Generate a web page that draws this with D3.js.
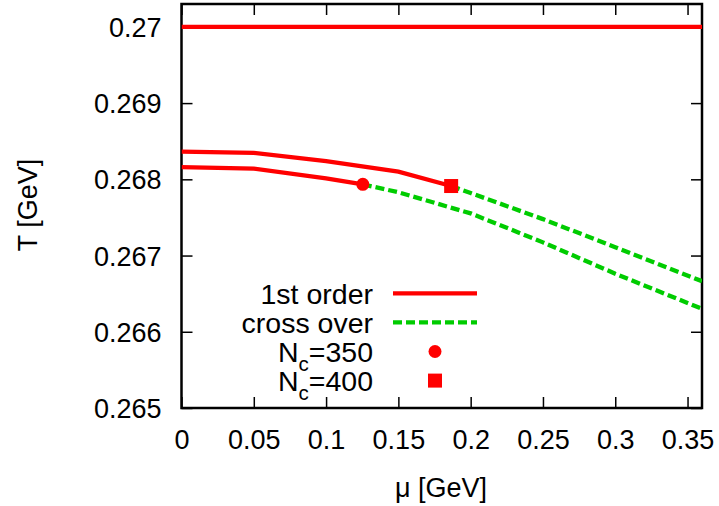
<!DOCTYPE html>
<html>
<head>
<meta charset="utf-8">
<script src="https://cdn.jsdelivr.net/npm/d3@7"></script>
<style>
  html, body { margin: 0; padding: 0; background: #fff; }
  svg { display: block; }
  text { font-family: "Liberation Sans", Arial, Helvetica, sans-serif; fill: #000; }
</style>
</head>
<body>
<svg id="chart" width="719" height="506"></svg>
<script>
// ---- data ----
const xTicks = [0, 0.05, 0.1, 0.15, 0.2, 0.25, 0.3, 0.35];
const xTickLabels = ["0", "0.05", "0.1", "0.15", "0.2", "0.25", "0.3", "0.35"];
const yTicks = [0.265, 0.266, 0.267, 0.268, 0.269, 0.27];
const yTickLabels = ["0.265", "0.266", "0.267", "0.268", "0.269", "0.27"];

const muFlat = [0, 0.36];
const TFlat = [0.27, 0.27];

const mu400First = [0, 0.05, 0.1, 0.15, 0.1865];
const T400First = [0.268364, 0.268348, 0.268240, 0.268100, 0.267912];

const mu350First = [0, 0.05, 0.1, 0.1254];
const T350First = [0.268160, 0.268140, 0.268012, 0.267934];

const mu400Cross = [0.1865, 0.2, 0.25, 0.3, 0.36];
const T400Cross = [0.267912, 0.267820, 0.267478, 0.267110, 0.266664];

const mu350Cross = [0.1254, 0.15, 0.2, 0.25, 0.3, 0.36];
const T350Cross = [0.267934, 0.267830, 0.267553, 0.267173, 0.266762, 0.266302];

const endpoint350 = [0.1254, 0.267934];
const endpoint400 = [0.1865, 0.267912];

const legendLabels = ["1st order", "cross over", "N|c|=350", "N|c|=400"];

// ---- layout ----
const svg = d3.select("#chart");
const L = 181.5, R = 702, T = 4, B = 408;
const x = d3.scaleLinear().domain([0, 0.36]).range([L, R]);
const y = d3.scaleLinear().domain([0.265, 0.2703]).range([B, T]);
const RED = "#ff0000", GREEN = "#00cc00";
const FS = 27;
const LFS = 28.5;

svg.append("defs").append("clipPath").attr("id", "clip")
  .append("rect").attr("x", L).attr("y", T).attr("width", R - L).attr("height", B - T);

const zip = (a, b) => a.map((v, i) => [v, b[i]]);
const line = d3.line().x(d => x(d[0])).y(d => y(d[1]));

// axes with inward ticks
const tickLen = 11;
const axB = svg.append("g").attr("transform", `translate(0,${B})`)
  .call(d3.axisBottom(x).tickValues(xTicks).tickSizeInner(-tickLen).tickSizeOuter(0).tickPadding(22)
    .tickFormat((d, i) => xTickLabels[i]));
const axT = svg.append("g").attr("transform", `translate(0,${T})`)
  .call(d3.axisTop(x).tickValues(xTicks).tickSizeInner(-tickLen).tickSizeOuter(0).tickFormat(""));
const axL = svg.append("g").attr("transform", `translate(${L},0)`)
  .call(d3.axisLeft(y).tickValues(yTicks).tickSizeInner(-tickLen).tickSizeOuter(0).tickPadding(20)
    .tickFormat((d, i) => yTickLabels[i]));
const axR = svg.append("g").attr("transform", `translate(${R},0)`)
  .call(d3.axisRight(y).tickValues(yTicks).tickSizeInner(-tickLen).tickSizeOuter(0).tickFormat(""));

[axB, axT, axL, axR].forEach(g => {
  g.select(".domain").remove();
  g.selectAll(".tick line").attr("stroke", "#000").attr("stroke-width", 1.5);
  g.selectAll(".tick text").attr("font-size", FS).attr("font-family", "Liberation Sans, Arial, sans-serif").attr("fill", "#000");
});
axL.selectAll(".tick text").attr("dy", "0.35em");
axB.selectAll(".tick text").attr("dy", "0.71em");

// frame
svg.append("rect").attr("x", L).attr("y", T).attr("width", R - L).attr("height", B - T)
  .attr("fill", "none").attr("stroke", "#000").attr("stroke-width", 2.5);

// curves
const plot = svg.append("g").attr("clip-path", "url(#clip)");
const greenStyle = sel => sel.attr("fill", "none").attr("stroke", GREEN).attr("stroke-width", 4.3).attr("stroke-dasharray", "9,4");
const redStyle = sel => sel.attr("fill", "none").attr("stroke", RED).attr("stroke-width", 4.3);

plot.append("path").datum(zip(mu350Cross, T350Cross)).attr("d", line).call(greenStyle);
plot.append("path").datum(zip(mu400Cross, T400Cross)).attr("d", line).call(greenStyle);
plot.append("path").datum(zip(muFlat, TFlat)).attr("d", line).call(redStyle);
plot.append("path").datum(zip(mu400First, T400First)).attr("d", line).call(redStyle);
plot.append("path").datum(zip(mu350First, T350First)).attr("d", line).call(redStyle);

// markers
svg.append("circle").attr("cx", x(endpoint350[0])).attr("cy", y(endpoint350[1])).attr("r", 6.5).attr("fill", RED);
const sq = 14;
svg.append("rect").attr("x", x(endpoint400[0]) - sq / 2).attr("y", y(endpoint400[1]) - sq / 2)
  .attr("width", sq).attr("height", sq).attr("fill", RED);

// axis titles
svg.append("text").attr("transform", `translate(37,205) rotate(-90)`).attr("text-anchor", "middle")
  .attr("font-size", FS).text("T [GeV]");
svg.append("text").attr("x", 441).attr("y", 497).attr("text-anchor", "middle")
  .attr("font-size", FS).text("μ [GeV]");

// legend
const legX = 373, legRow0 = 293.3, legStep = 29.1;
const lx1 = 393, lx2 = 477, lmid = (lx1 + lx2) / 2;
legendLabels.forEach((lab, i) => {
  const yy = legRow0 + i * legStep;
  const t = svg.append("text").attr("x", legX).attr("y", yy).attr("dy", "0.36em")
    .attr("text-anchor", "end").attr("font-size", LFS);
  const parts = lab.split("|");
  if (parts.length === 1) {
    t.text(lab);
  } else {
    t.append("tspan").text(parts[0]);
    t.append("tspan").attr("font-size", LFS * 0.72).attr("dy", 9).text(parts[1]);
    t.append("tspan").attr("dy", -9).text(parts[2]);
  }
  if (i === 0) {
    svg.append("line").attr("x1", lx1).attr("x2", lx2).attr("y1", yy).attr("y2", yy)
      .attr("stroke", RED).attr("stroke-width", 4.3);
  } else if (i === 1) {
    svg.append("line").attr("x1", lx1).attr("x2", lx2).attr("y1", yy).attr("y2", yy)
      .attr("stroke", GREEN).attr("stroke-width", 4.3).attr("stroke-dasharray", "9,4");
  } else if (i === 2) {
    svg.append("circle").attr("cx", lmid).attr("cy", yy).attr("r", 6.5).attr("fill", RED);
  } else {
    svg.append("rect").attr("x", lmid - sq / 2).attr("y", yy - sq / 2).attr("width", sq).attr("height", sq).attr("fill", RED);
  }
});
</script>
</body>
</html>
